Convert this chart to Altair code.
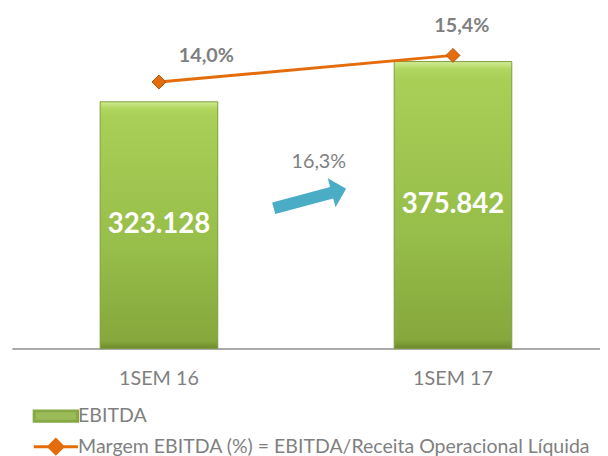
import altair as alt
import pandas as pd

categories = ["1SEM 16", "1SEM 17"]
ebitda = [323128, 375842]
margem = [14.0, 15.4]
series_names = ["EBITDA", "Margem EBITDA (%) = EBITDA/Receita Operacional Líquida"]


def br_int(v):
    return f"{v:,}".replace(",", ".")


def br_pct(v):
    return f"{v:.1f}".replace(".", ",") + "%"


growth = (ebitda[1] / ebitda[0] - 1) * 100

df = pd.DataFrame({
    "cat": categories,
    "ebitda": ebitda,
    "margem": margem,
    "ebitda_label": [br_int(v) for v in ebitda],
    "margem_label": [br_pct(v) for v in margem],
})
growth_df = pd.DataFrame({"label": [br_pct(growth)]})
legend_df = pd.DataFrame({"series": series_names})

FONT = "Lato"
GREY = "#7f7f7f"
ORANGE = "#e46c0a"

x_enc = alt.X(
    "cat:N", sort=categories,
    scale=alt.Scale(range=[0, 596], paddingInner=0.6, paddingOuter=0.3),
    axis=alt.Axis(title=None, ticks=False, labelAngle=0, labelPadding=21,
                  labelFontSize=20, labelColor=GREY, labelFont=FONT,
                  domain=True, domainColor="#8c8c8c", domainWidth=1.5, grid=False),
)

bar_scale = alt.Scale(domain=[0, 442047], nice=False, zero=True)
line_scale = alt.Scale(domain=[0, 17.73], nice=False, zero=True)

gradient = {
    "gradient": "linear", "x1": 0, "x2": 0, "y1": 0, "y2": 1,
    "stops": [
        {"offset": 0, "color": "#d3ec95"},
        {"offset": 0.025, "color": "#b2d762"},
        {"offset": 0.06, "color": "#a9cf57"},
        {"offset": 0.6, "color": "#97bd4a"},
        {"offset": 0.97, "color": "#86a73c"},
        {"offset": 1, "color": "#6d8a2d"},
    ],
}

base = alt.Chart(df)

bars = base.mark_bar(color=gradient, stroke="#7d9c3e", strokeWidth=1).encode(
    x=x_enc,
    y=alt.Y("ebitda:Q", scale=bar_scale, axis=None),
)

bar_text = base.transform_calculate(mid="datum.ebitda / 2").mark_text(
    font=FONT, fontSize=28, fontWeight="bold", color="white",
    align="center", baseline="middle",
).encode(
    x=x_enc,
    y=alt.Y("mid:Q", scale=bar_scale, axis=None),
    text="ebitda_label:N",
)

line = base.mark_line(color=ORANGE, strokeWidth=3).encode(
    x=x_enc,
    y=alt.Y("margem:Q", scale=line_scale, axis=None),
)

pts = base.mark_point(shape="diamond", filled=True, size=200, color=ORANGE,
                      stroke="#b3530a", strokeWidth=1, opacity=1).encode(
    x=x_enc,
    y=alt.Y("margem:Q", scale=line_scale, axis=None),
)

lab1 = base.transform_filter(alt.datum.cat == categories[0]).mark_text(
    font=FONT, fontSize=20, fontWeight="bold", color=GREY,
    align="center", baseline="middle", dx=48, dy=-26,
).encode(
    x=x_enc,
    y=alt.Y("margem:Q", scale=line_scale, axis=None),
    text="margem_label:N",
)

lab2 = base.transform_filter(alt.datum.cat == categories[1]).mark_text(
    font=FONT, fontSize=20, fontWeight="bold", color=GREY,
    align="center", baseline="middle", dx=9, dy=-30,
).encode(
    x=x_enc,
    y=alt.Y("margem:Q", scale=line_scale, axis=None),
    text="margem_label:N",
)

rect_path = "M-1.375,-0.33H1.375V0.33H-1.375Z"
line_path = "M-1.4,0H1.4M0,-0.45L0.45,0L0,0.45L-0.45,0Z"

L = alt.Legend(title=None, orient="none", legendX=27, legendY=393,
               direction="vertical", symbolSize=1024, symbolStrokeWidth=3,
               labelFontSize=19.8, labelColor=GREY, labelFont=FONT,
               labelOffset=5, labelLimit=700, rowPadding=2, padding=0,
               symbolOpacity=1)

legend_layer = alt.Chart(legend_df).transform_filter("false").mark_point(
    filled=True, opacity=1
).encode(
    fill=alt.Fill("series:N", sort=series_names,
                  scale=alt.Scale(domain=series_names, range=["#9bbb59", ORANGE]),
                  legend=L),
    stroke=alt.Stroke("series:N", sort=series_names,
                      scale=alt.Scale(domain=series_names, range=["#86a944", ORANGE]),
                      legend=L),
    shape=alt.Shape("series:N", sort=series_names,
                    scale=alt.Scale(domain=series_names, range=[rect_path, line_path]),
                    legend=L),
)

arrow_path = "M-1,-0.16L0.6,-0.16L0.6,-0.4L1,0L0.6,0.4L0.6,0.16L-1,0.16Z"
arrow = alt.Chart(growth_df).mark_point(
    shape=arrow_path, filled=True, color="#4bacc6", size=5776, angle=345, opacity=1
).encode(x=alt.value(302), y=alt.value(190))

arrow_text = alt.Chart(growth_df).mark_text(
    font=FONT, fontSize=20, color=GREY, align="center", baseline="middle"
).encode(x=alt.value(311), y=alt.value(153), text="label:N")

bar_layer = alt.layer(bars, bar_text)
line_layer = alt.layer(line, pts, lab1, lab2)

chart = alt.layer(bar_layer, line_layer, arrow, arrow_text, legend_layer).resolve_scale(
    y="independent"
).properties(
    width=596, height=342,
    autosize=alt.AutoSizeParams(type="none"),
    padding={"left": 4, "top": 0, "right": 0, "bottom": 114},
    view=alt.ViewBackground(stroke="transparent", strokeWidth=0),
).configure_view(
    stroke="transparent", strokeWidth=0, strokeOpacity=0
).configure_axis(
    domain=False, grid=False
).configure(font=FONT)

chart.save("out.html", embed_options={"renderer": "svg", "actions": False})
